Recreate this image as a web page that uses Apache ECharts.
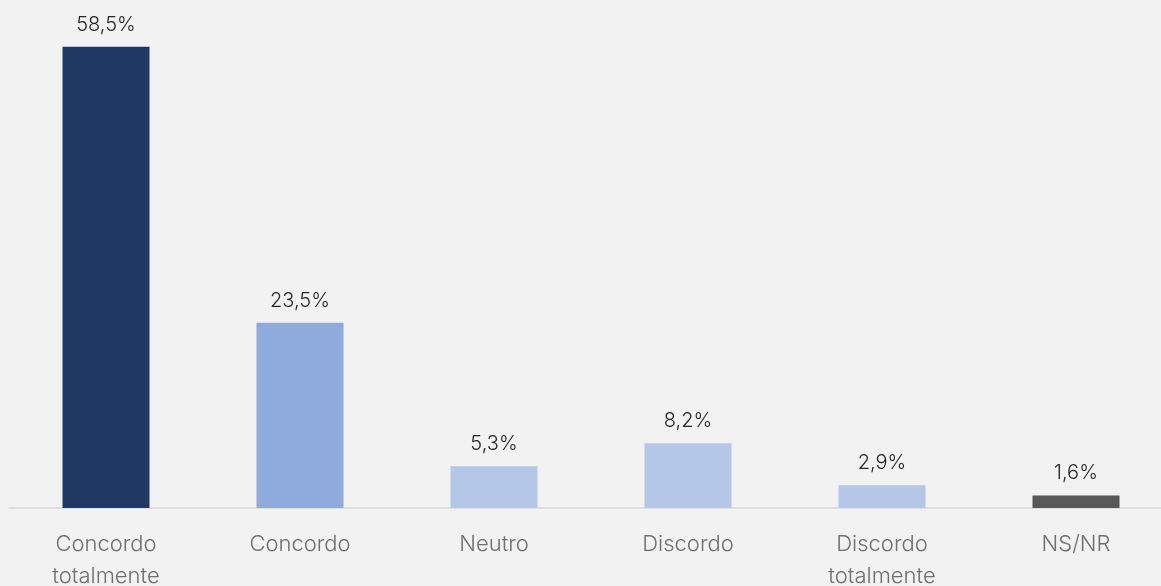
<!DOCTYPE html>
<html><head><meta charset="utf-8">
<script src="https://cdn.jsdelivr.net/npm/echarts@6/dist/echarts.min.js"></script>
<style>html,body{margin:0;padding:0;background:#f2f2f2}#c{width:1161px;height:586px}</style>
</head><body><div id="c"></div>
<script>
var categories = ['Concordo\ntotalmente', 'Concordo', 'Neutro', 'Discordo', 'Discordo\ntotalmente', 'NS/NR'];
var values = [58.5, 23.5, 5.3, 8.2, 2.9, 1.6];
var colors = ['#203864', '#8faadc', '#b4c7e7', '#b4c7e7', '#b4c7e7', '#595959'];
var chart = echarts.init(document.getElementById('c'));
chart.setOption({
  backgroundColor: '#f2f2f2',
  animation: false,
  grid: {left: 9, width: 1164, top: 35, bottom: 78, outerBoundsMode: 'none', containLabel: false},
  xAxis: {
    type: 'category', data: categories,
    axisLine: {lineStyle: {color: '#d9d9d9', width: 1.5}},
    axisTick: {show: false},
    axisLabel: {color: '#6f6f6f', fontSize: 22, fontFamily: 'Inter', fontWeight: 300, lineHeight: 32, margin: 20, interval: 0}
  },
  yAxis: {type: 'value', min: 0, max: 60, show: false, splitLine: {show: false}},
  series: [{
    type: 'bar', barWidth: 87,
    data: values.map(function(v, i){ return {value: v, itemStyle: {color: colors[i]}}; }),
    label: {show: true, position: 'top', distance: 12, color: '#262626', fontSize: 20, fontFamily: 'Inter', fontWeight: 300,
      formatter: function(p){ return p.value.toFixed(1).replace('.', ',') + '%'; }}
  }]
});
</script></body></html>
